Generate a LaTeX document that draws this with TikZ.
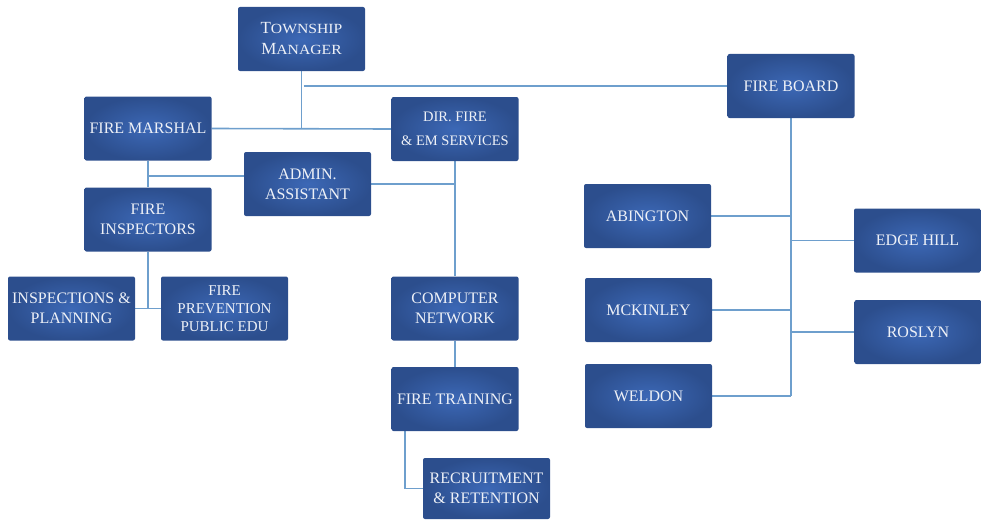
\documentclass[tikz,border=0pt]{standalone}
\usepackage{fontspec}
\setmainfont{Liberation Serif}
\usetikzlibrary{backgrounds}
\definecolor{boxin}{HTML}{3C68B6}
\definecolor{boxout}{HTML}{2C4E8D}
\definecolor{linec}{HTML}{6E9FCD}
\definecolor{txtc}{HTML}{EEF1F7}
\newcommand{\smc}[1]{\scalebox{1.12}[1]{\fontsize{14}{21}\selectfont #1}}
\tikzset{
  orgbox/.style={rectangle, rounded corners=2pt, minimum width=127pt, minimum height=64pt,
    inner color=boxin, outer color=boxout, text=txtc, align=center, inner sep=1pt,
    font=\fontsize{16}{20}\selectfont},
  conn/.style={draw=linec, line width=1.6pt}
}
\begin{document}
\begin{tikzpicture}[x=1pt,y=-1pt]
\useasboundingbox (0,0) rectangle (981,519);
\node[orgbox, font=\fontsize{17}{21}\selectfont] (tm) at (301.5,39) {T\smc{OWNSHIP}\\M\smc{ANAGER}};
\node[orgbox] (fm) at (148,128.5) {FIRE MARSHAL};
\node[orgbox, font=\fontsize{14.5}{24}\selectfont] (dir) at (455,129) {DIR. FIRE\\\& EM SERVICES};
\node[orgbox] (aa) at (307.5,184) {ADMIN.\\ASSISTANT};
\node[orgbox] (fi) at (148,219.5) {FIRE\\INSPECTORS};
\node[orgbox] (ip) at (71.5,308.5) {INSPECTIONS \&\\PLANNING};
\node[orgbox, font=\fontsize{15}{18}\selectfont] (fp) at (224.5,308.5) {FIRE\\PREVENTION\\PUBLIC EDU};
\node[orgbox] (cn) at (455,308.5) {COMPUTER\\NETWORK};
\node[orgbox] (ft) at (455,399) {FIRE TRAINING};
\node[orgbox, minimum height=61pt] (rr) at (486.5,488.5) {RECRUITMENT\\\& RETENTION};
\node[orgbox] (fb) at (791,86) {FIRE BOARD};
\node[orgbox] (ab) at (647.5,216) {ABINGTON};
\node[orgbox] (eh) at (917.5,240.5) {EDGE HILL};
\node[orgbox] (mk) at (648.5,310) {MCKINLEY};
\node[orgbox] (ro) at (918,332) {ROSLYN};
\node[orgbox] (we) at (648.5,396) {WELDON};
\coordinate (j1) at (148,176);
\begin{pgfonlayer}{background}
\draw[conn] (tm.south) -- (tm.south |- fm.east);
\draw[conn] (fm.east) -- (dir.west);
\draw[conn] ([xshift=2pt]tm.south |- fb.west) -- (fb.west);
\draw[conn] (dir.south) -- (cn.north);
\draw[conn] (aa.east) -- (aa.east -| dir.south);
\draw[conn] (fm.south) -- (fi.north);
\draw[conn] (j1) -- (aa.west |- j1);
\draw[conn] (fi.south) -- (fi.south |- ip.east);
\draw[conn] (ip.east) -- (fp.west);
\draw[conn] (cn.south) -- (ft.north);
\draw[conn] ([xshift=-50pt]ft.south) |- (rr.west);
\draw[conn] (fb.south) -- (fb.south |- we.east);
\draw[conn] (ab.east) -- (ab.east -| fb.south);
\draw[conn] (eh.west) -- (eh.west -| fb.south);
\draw[conn] (mk.east) -- (mk.east -| fb.south);
\draw[conn] (ro.west) -- (ro.west -| fb.south);
\draw[conn] (we.east) -- (we.east -| fb.south);
\end{pgfonlayer}
\end{tikzpicture}
\end{document}
